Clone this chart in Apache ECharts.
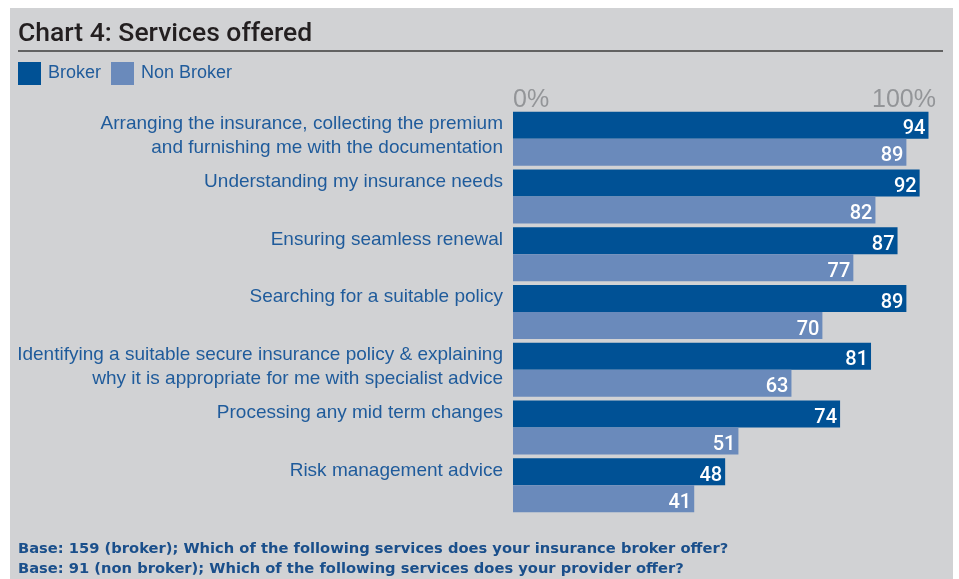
<!DOCTYPE html>
<html>
<head>
<meta charset="utf-8">
<script src="https://cdn.jsdelivr.net/npm/echarts@6/dist/echarts.min.js"></script>
<style>
  html, body { margin: 0; padding: 0; background: #ffffff; }
  #chart { width: 959px; height: 579px; }
</style>
</head>
<body>
<div id="chart"></div>
<script>
// Services offered: share of respondents (%) by provider type
var categories = [
  'Arranging the insurance, collecting the premium\nand furnishing me with the documentation',
  'Understanding my insurance needs',
  'Ensuring seamless renewal',
  'Searching for a suitable policy',
  'Identifying a suitable secure insurance policy & explaining\nwhy it is appropriate for me with specialist advice',
  'Processing any mid term changes',
  'Risk management advice'
];
var brokerValues = [94, 92, 87, 89, 81, 74, 48];
var nonBrokerValues = [89, 82, 77, 70, 63, 51, 41];
var seriesNames = ['Broker', 'Non Broker'];
var axisTickValues = [0, 100];
var footnotes = [
  'Base: 159 (broker); Which of the following services does your insurance broker offer?',
  'Base: 91 (non broker); Which of the following services does your provider offer?'
];

var FONT = '"Liberation Sans", Arial, Helvetica, sans-serif';
var MEDIUM_FONT = 'Roboto, "Liberation Sans", Arial, sans-serif';
var FOOT_FONT = '"DejaVu Sans", "Liberation Sans", Arial, sans-serif';
var BLUE_TEXT = '#1f5b9b';
var BROKER = '#005195';
var NON_BROKER = '#6a8abb';

var chart = echarts.init(document.getElementById('chart'), null, { renderer: 'canvas' });

function valueLabel() {
  return {
    show: true,
    position: 'insideRight',
    distance: 3,
    offset: [0, 4],
    color: '#ffffff',
    fontFamily: MEDIUM_FONT,
    fontWeight: 500,
    fontSize: 20,
    formatter: '{c}'
  };
}

// Category names sit beside the Broker bar: every label is laid out as two
// text lines plus a short spacer line so its first line lines up with the top bar.
function categoryLabel(v) {
  var lines = v.split('\n');
  if (lines.length < 2) lines.push(' ');
  return lines.map(function (l) { return '{t|' + l + '}'; }).join('\n') + '\n{s| }';
}

var option = {
  backgroundColor: '#ffffff',
  animation: false,
  graphic: [
    {
      type: 'rect',
      z: -10,
      shape: { x: 10, y: 8, width: 943, height: 571 },
      style: { fill: '#d1d2d4' }
    },
    {
      type: 'line',
      z: -5,
      shape: { x1: 18, y1: 51, x2: 943, y2: 51 },
      style: { stroke: '#3c3c3c', lineWidth: 1.5 }
    }
  ],
  title: [
    {
      text: 'Chart 4: Services offered',
      left: 13,
      top: 16,
      textStyle: { fontFamily: MEDIUM_FONT, fontSize: 26.5, fontWeight: 500, color: '#231f20' }
    },
    {
      text: footnotes.join('\n'),
      left: 18,
      top: 539,
      padding: 0,
      textStyle: { fontFamily: FOOT_FONT, fontSize: 14.7, fontWeight: 'bold', color: '#1a4f8b', lineHeight: 20 }
    }
  ],
  legend: {
    data: seriesNames,
    left: 18,
    top: 62,
    padding: 0,
    itemWidth: 23,
    itemHeight: 23,
    itemGap: 10,
    icon: 'rect',
    textStyle: { fontFamily: FONT, fontSize: 18, color: BLUE_TEXT, padding: [0, 0, 0, 2] }
  },
  grid: { left: 513, right: 4, top: 110, bottom: 65, containLabel: false, outerBoundsMode: 'none' },
  xAxis: {
    type: 'value',
    position: 'top',
    min: axisTickValues[0],
    max: axisTickValues[1],
    interval: 100,
    splitLine: { show: false },
    axisLine: { show: false },
    axisTick: { show: false },
    axisLabel: {
      margin: 10,
      verticalAlign: 'middle',
      alignMinLabel: 'left',
      alignMaxLabel: 'right',
      fontFamily: FONT,
      fontSize: 25,
      color: '#939598',
      formatter: function (v) {
        return v === axisTickValues[1] ? '{r|' + v + '%}' : '{l|' + v + '%}';
      },
      rich: {
        l: { fontFamily: FONT, fontSize: 25, color: '#939598' },
        r: { fontFamily: FONT, fontSize: 25, color: '#939598', padding: [0, 19, 0, 0] }
      }
    }
  },
  yAxis: {
    type: 'category',
    inverse: true,
    data: categories,
    axisLine: { show: false },
    axisTick: { show: false },
    axisLabel: {
      margin: 10,
      interval: 0,
      align: 'right',
      verticalAlign: 'middle',
      formatter: categoryLabel,
      rich: {
        t: { fontFamily: FONT, fontSize: 19, lineHeight: 23.5, color: BLUE_TEXT, align: 'right' },
        s: { fontFamily: FONT, fontSize: 4, lineHeight: 6, color: BLUE_TEXT, align: 'right' }
      }
    }
  },
  series: [
    {
      name: seriesNames[0],
      type: 'bar',
      data: brokerValues,
      barWidth: 27,
      barGap: '0%',
      itemStyle: { color: BROKER },
      label: valueLabel()
    },
    {
      name: seriesNames[1],
      type: 'bar',
      data: nonBrokerValues,
      barWidth: 27,
      barGap: '0%',
      itemStyle: { color: NON_BROKER },
      label: valueLabel()
    }
  ]
};

chart.setOption(option);
</script>
</body>
</html>
